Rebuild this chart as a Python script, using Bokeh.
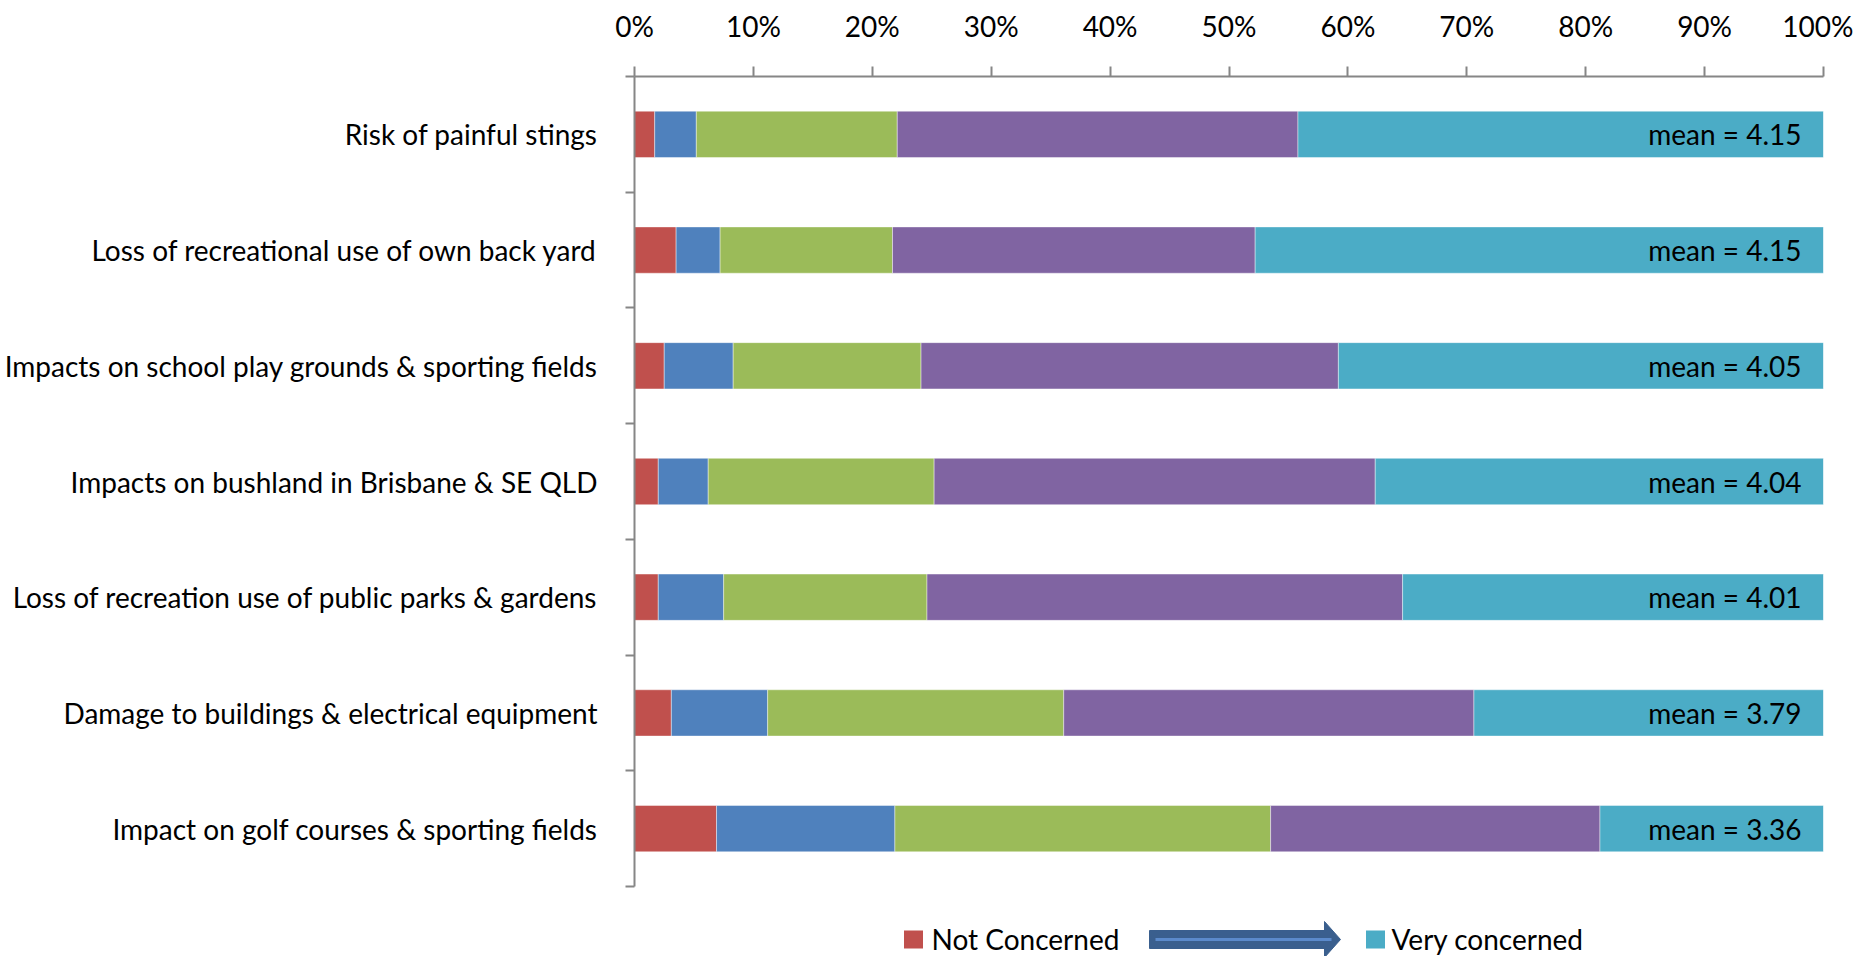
from bokeh.plotting import figure
from bokeh.layouts import column
from bokeh.models import ColumnDataSource, Range1d, FixedTicker, PrintfTickFormatter
from bokeh.core.properties import value
from bokeh.embed import file_html
from bokeh.resources import INLINE

categories = [
    "Risk of painful stings",
    "Loss of recreational use of own back yard",
    "Impacts on school play grounds & sporting fields",
    "Impacts on bushland in Brisbane & SE QLD",
    "Loss of recreation use of public parks & gardens",
    "Damage to buildings & electrical equipment",
    "Impact on golf courses & sporting fields",
]
# percent of respondents per level (1 = not concerned ... 5 = very concerned)
level1 = [1.7, 3.5, 2.5, 2.0, 2.0, 3.1, 6.9]
level2 = [3.5, 3.7, 5.8, 4.2, 5.5, 8.1, 15.0]
level3 = [16.9, 14.5, 15.8, 19.0, 17.1, 24.9, 31.6]
level4 = [33.7, 30.5, 35.1, 37.1, 40.0, 34.5, 27.7]
level5 = [44.2, 47.8, 40.8, 37.7, 35.4, 29.4, 18.8]
means = [4.15, 4.15, 4.05, 4.04, 4.01, 3.79, 3.36]
x_ticks = [0, 10, 20, 30, 40, 50, 60, 70, 80, 90, 100]
legend_labels = ["Not Concerned", "Very concerned"]

colors = ["#C0504D", "#4F81BD", "#9BBB59", "#8064A2", "#4BACC6"]
FONT = "Lato"
FS = "28px"
AXIS_COLOR = "#868686"

FRAME_W, FRAME_H = 1189, 810
BL, BR, BT, BB = 634, 30, 76, 4

series = [level1, level2, level3, level4, level5]
ys = [i + 0.5 for i in range(len(categories))]

p = figure(
    frame_width=FRAME_W, frame_height=FRAME_H,
    x_range=Range1d(0, 100), y_range=Range1d(len(categories), 0),
    output_backend="svg", toolbar_location=None,
    x_axis_location="above", y_axis_location="left",
    min_border_left=BL, min_border_right=BR, min_border_top=BT, min_border_bottom=BB,
)
p.outline_line_color = None
p.grid.visible = False

left = [0.0] * len(categories)
for vals, col in zip(series, colors):
    right = [l + v for l, v in zip(left, vals)]
    src = ColumnDataSource(dict(y=ys, left=left, right=right))
    p.hbar(y="y", left="left", right="right", height=0.40, source=src,
           fill_color=col, line_color="white", line_width=0.6, line_alpha=0.7)
    left = right

# mean labels
p.text(x=[100] * len(categories), y=ys, text=[f"mean = {m:.2f}" for m in means],
       x_offset=-22, text_align="right", text_baseline="middle",
       text_font=value(FONT), text_font_size=FS, text_color="black")

# x axis (top)
xa = p.xaxis[0]
xa.ticker = FixedTicker(ticks=x_ticks)
xa.formatter = PrintfTickFormatter(format="%d%%")
xa.axis_line_color = AXIS_COLOR
xa.axis_line_width = 2
xa.major_tick_line_color = AXIS_COLOR
xa.major_tick_line_width = 2
xa.major_tick_out = 10
xa.major_tick_in = 0
xa.minor_tick_line_color = None
xa.major_label_text_font = FONT
xa.major_label_text_font_size = FS
xa.major_label_text_color = "black"
xa.major_label_standoff = 24

# y axis (left)
ya = p.yaxis[0]
ya.ticker = FixedTicker(ticks=ys, minor_ticks=list(range(len(categories) + 1)))
ya.major_label_overrides = {y: c for y, c in zip(ys, categories)}
ya.axis_line_color = AXIS_COLOR
ya.axis_line_width = 2
ya.major_tick_line_color = None
ya.major_tick_out = 0
ya.major_tick_in = 0
ya.minor_tick_line_color = AXIS_COLOR
ya.minor_tick_line_width = 2
ya.minor_tick_out = 9
ya.minor_tick_in = 0
ya.major_label_text_font = FONT
ya.major_label_text_font_size = FS
ya.major_label_text_color = "black"
ya.major_label_standoff = 28

# legend strip (frame aligned with main frame; units = pixels from frame left / bottom)
LH = 66
lg = figure(frame_width=FRAME_W, frame_height=LH, x_range=Range1d(0, FRAME_W), y_range=Range1d(0, LH),
            output_backend="svg", toolbar_location=None,
            x_axis_type=None, y_axis_type=None,
            min_border_left=BL, min_border_right=BR, min_border_top=0, min_border_bottom=0)
lg.outline_line_color = None
lg.grid.visible = False
lg.rect(x=[279, 741], y=[17, 17], width=19, height=18, fill_color=[colors[0], colors[4]], line_color=None)
lg.text(x=[297, 757], y=[18, 18], text=legend_labels, text_align="left", text_baseline="middle",
        text_font=value(FONT), text_font_size=FS, text_color="black")
# arrow
lg.quad(left=[515], right=[690], bottom=[8], top=[26], fill_color="#3A5F8E", line_color="#3A5F8E", line_width=1)
lg.patch(x=[690, 706, 690], y=[35, 17, -1], fill_color="#3A5F8E", line_color="#3A5F8E")
lg.segment(x0=[521], y0=[17], x1=[697], y1=[17], line_color="#5B8ACB", line_width=3)

layout = column(p, lg, spacing=0)
open("out.html", "w").write(file_html(layout, INLINE))
